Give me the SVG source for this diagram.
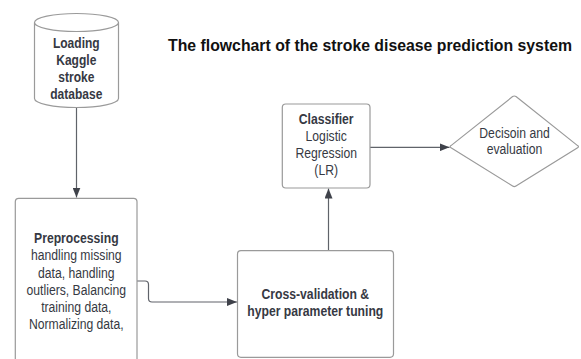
<svg xmlns="http://www.w3.org/2000/svg" width="581" height="359" viewBox="0 0 581 359">
  <defs>
    <marker id="arrow" viewBox="0 0 10 8" refX="10" refY="4" markerWidth="10" markerHeight="8" markerUnits="userSpaceOnUse" orient="auto">
      <path d="M0,0 L10,4 L0,8 Z" fill="#3f424a"/>
    </marker>
  </defs>
  <style>
    .shape { fill: #ffffff; stroke: #9a9a9a; stroke-width: 1.2; }
    .wire { fill: none; stroke: #60636a; stroke-width: 1.2; marker-end: url(#arrow); }
    .label { font-family: "Liberation Sans", Arial, sans-serif; font-size: 14px; fill: #363943; text-anchor: middle; }
    .bold { font-weight: bold; }
    .title { font-family: "Liberation Sans", Arial, sans-serif; font-size: 15.8px; font-weight: bold; fill: #111111; }
  </style>

  <rect width="581" height="359" fill="#ffffff"/>

  <text class="title" x="168" y="51" textLength="404" lengthAdjust="spacingAndGlyphs">The flowchart of the stroke disease prediction system</text>

  <g id="connectors">
    <path class="wire" d="M76.5,107.5 V197.5"/>
    <path class="wire" d="M137,281 H145 Q148.5,281 148.5,284.5 V298.5 Q148.5,302 152,302 H237"/>
    <path class="wire" d="M328.5,250.5 V188.5"/>
    <path class="wire" d="M370,147.3 H449.5"/>
  </g>

  <g id="database">
    <path class="shape" d="M34.5,22.5 V98.5 A42,9 0 0 0 118.5,98.5 V22.5"/>
    <ellipse class="shape" cx="76.5" cy="22.5" rx="42" ry="9"/>
    <g transform="translate(76.3,0) scale(0.86,1)">
      <text class="label bold" x="0" y="48">Loading</text>
      <text class="label bold" x="0" y="65">Kaggle</text>
      <text class="label bold" x="0" y="82">stroke</text>
      <text class="label bold" x="0" y="99">database</text>
    </g>
  </g>

  <g id="preprocessing">
    <rect class="shape" x="15.3" y="198.3" width="121.7" height="175" rx="3.5"/>
    <g transform="translate(76.3,0) scale(0.87,1)">
      <text class="label bold" x="0" y="243">Preprocessing</text>
      <text class="label" x="0" y="260.3">handling missing</text>
      <text class="label" x="0" y="277.6">data, handling</text>
      <text class="label" x="0" y="294.9">outliers, Balancing</text>
      <text class="label" x="0" y="312.2">training data,</text>
      <text class="label" x="0" y="329.5">Normalizing data,</text>
    </g>
  </g>

  <g id="cross-validation">
    <rect class="shape" x="237.5" y="250.7" width="156" height="106.6" rx="3.5"/>
    <g transform="translate(315.3,0) scale(0.87,1)">
      <text class="label bold" x="0" y="298.7">Cross-validation &amp;</text>
      <text class="label bold" x="0" y="316">hyper parameter tuning</text>
    </g>
  </g>

  <g id="classifier">
    <rect class="shape" x="282.3" y="104" width="87.7" height="84" rx="3.5"/>
    <g transform="translate(326.2,0) scale(0.87,1)">
      <text class="label bold" x="0" y="124">Classifier</text>
      <text class="label" x="0" y="141">Logistic</text>
      <text class="label" x="0" y="158">Regression</text>
      <text class="label" x="0" y="175">(LR)</text>
    </g>
  </g>

  <g id="decision">
    <path class="shape" d="M451,147.8 Q449.3,146.7 451,145.6 L512.6,96.6 Q514.3,95.4 516,96.6 L577.6,145.6 Q579.3,146.7 577.6,147.8 L516,186 Q514.3,187.2 512.6,186 Z"/>
    <g transform="translate(514.5,0) scale(0.87,1)">
      <text class="label" x="0" y="137.7">Decisoin and</text>
      <text class="label" x="0" y="154.3">evaluation</text>
    </g>
  </g>
</svg>
